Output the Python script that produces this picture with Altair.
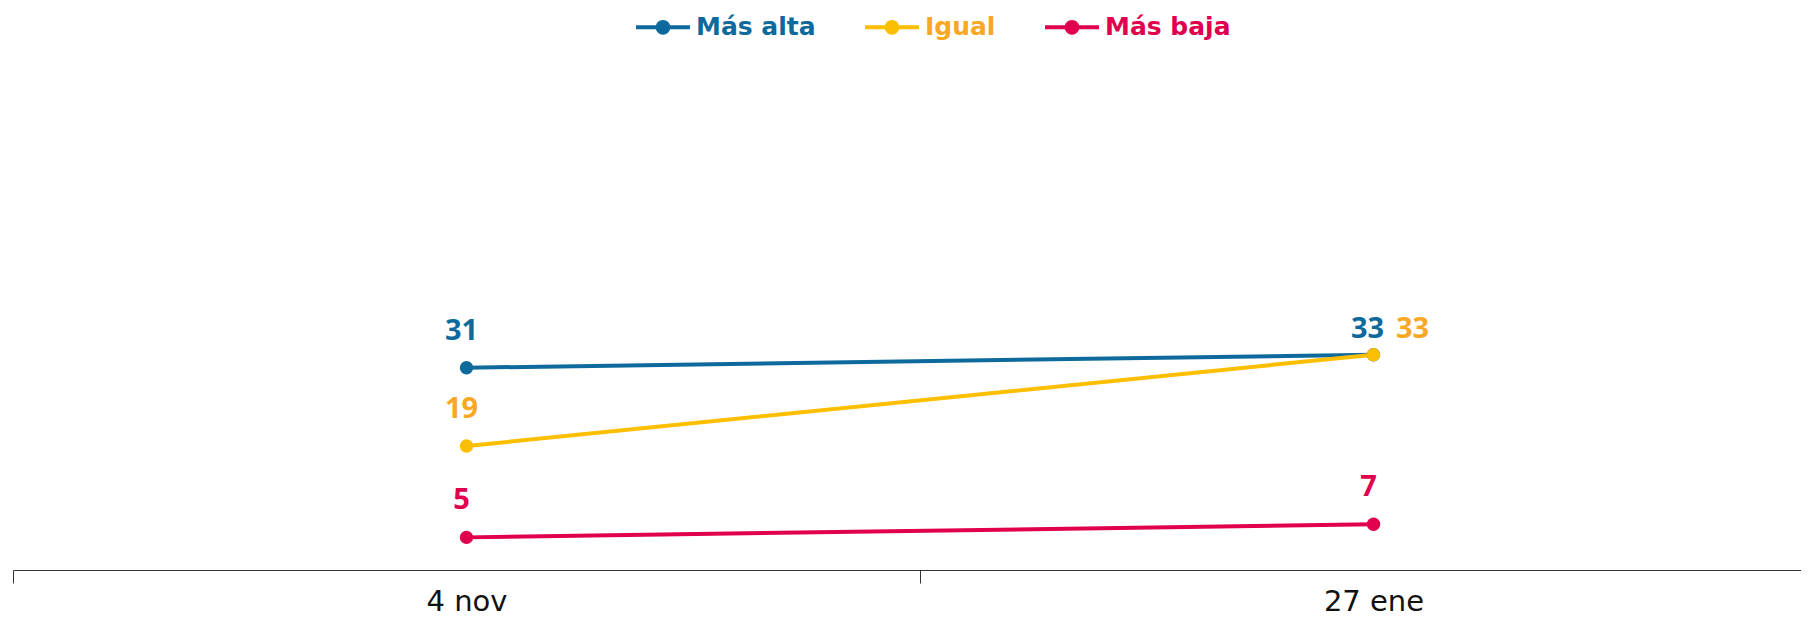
import altair as alt
import pandas as pd

fechas = ["4 nov", "27 ene"]
series = ["Más alta", "Igual", "Más baja"]
mas_alta = [31, 33]
igual = [19, 33]
mas_baja = [5, 7]

line_colors = ["#0E6A9C", "#FCBF00", "#E0004D"]
label_colors = ["#0E6A9C", "#F9A825", "#E0004D"]

rows = []
for s, vals in zip(series, [mas_alta, igual, mas_baja]):
    for f, v in zip(fechas, vals):
        rows.append({"fecha": f, "serie": s, "valor": v})
df = pd.DataFrame(rows)

x_enc = alt.X(
    "fecha:N",
    sort=fechas,
    scale=alt.Scale(type="band", paddingInner=0, paddingOuter=0, range=[0, 1814]),
    axis=alt.Axis(
        title=None,
        tickBand="extent",
        tickSize=13,
        tickColor="#333333",
        domainColor="#333333",
        domainWidth=1,
        labelFont="DejaVu Sans",
        labelFontSize=29,
        labelColor="#111111",
        labelPadding=4,
        labelAngle=0,
        grid=False,
    ),
)
y_enc = alt.Y("valor:Q", scale=alt.Scale(domain=[0, 80]), axis=None)

legend_path = "M-1,0L1,0M0.2,0A0.2,0.2,0,1,1,-0.2,0A0.2,0.2,0,1,1,0.2,0Z"
label_expr = (
    "datum.value === 'Más alta' ? '#0E6A9C' : "
    "(datum.value === 'Igual' ? '#F9A825' : '#E0004D')"
)

lines = alt.Chart(df).mark_line(
    strokeWidth=4,
    point=alt.OverlayMarkDef(filled=True, size=180, opacity=1),
).encode(
    x=x_enc,
    y=y_enc,
    color=alt.Color(
        "serie:N",
        scale=alt.Scale(domain=series, range=line_colors),
        legend=alt.Legend(
            title=None,
            orient="none",
            direction="horizontal",
            legendX=621,
            legendY=-50,
            symbolType=legend_path,
            symbolSize=2916,
            symbolStrokeWidth=4,
            labelFont="DejaVu Sans",
            labelFontWeight="bold",
            labelFontSize=25,
            labelColor=alt.ExprRef(label_expr),
            labelOffset=4,
            columnPadding=41,
            padding=0,
        ),
    ),
)

text_base = alt.Chart(df).encode(
    x=x_enc,
    y=y_enc,
    text=alt.Text("valor:Q"),
    color=alt.Color(
        "serie:N",
        scale=alt.Scale(domain=series, range=label_colors),
        legend=None,
    ),
)
font_kw = dict(font="Open Sans", fontWeight="bold", fontSize=29, baseline="alphabetic", align="center")

text_main = text_base.mark_text(dx=-5, dy=-28, **font_kw).transform_filter(
    "!(datum.fecha === '27 ene' && (datum.serie === 'Más alta' || datum.serie === 'Igual'))"
)
text_alta = text_base.mark_text(dx=-6, dy=-17, **font_kw).transform_filter(
    "datum.fecha === '27 ene' && datum.serie === 'Más alta'"
)
text_igual = text_base.mark_text(dx=39, dy=-17, **font_kw).transform_filter(
    "datum.fecha === '27 ene' && datum.serie === 'Igual'"
)

chart = (
    alt.layer(lines, text_main, text_alta, text_igual)
    .resolve_scale(color="independent")
    .properties(
        width=1788,
        height=522,
        background="white",
        autosize=alt.AutoSizeParams(type="none"),
        padding={"left": 5, "top": 40, "right": 0, "bottom": 48},
    )
    .configure_view(stroke="transparent", strokeWidth=0)
)

chart.save("out.html", embed_options={"renderer": "svg", "actions": False})
